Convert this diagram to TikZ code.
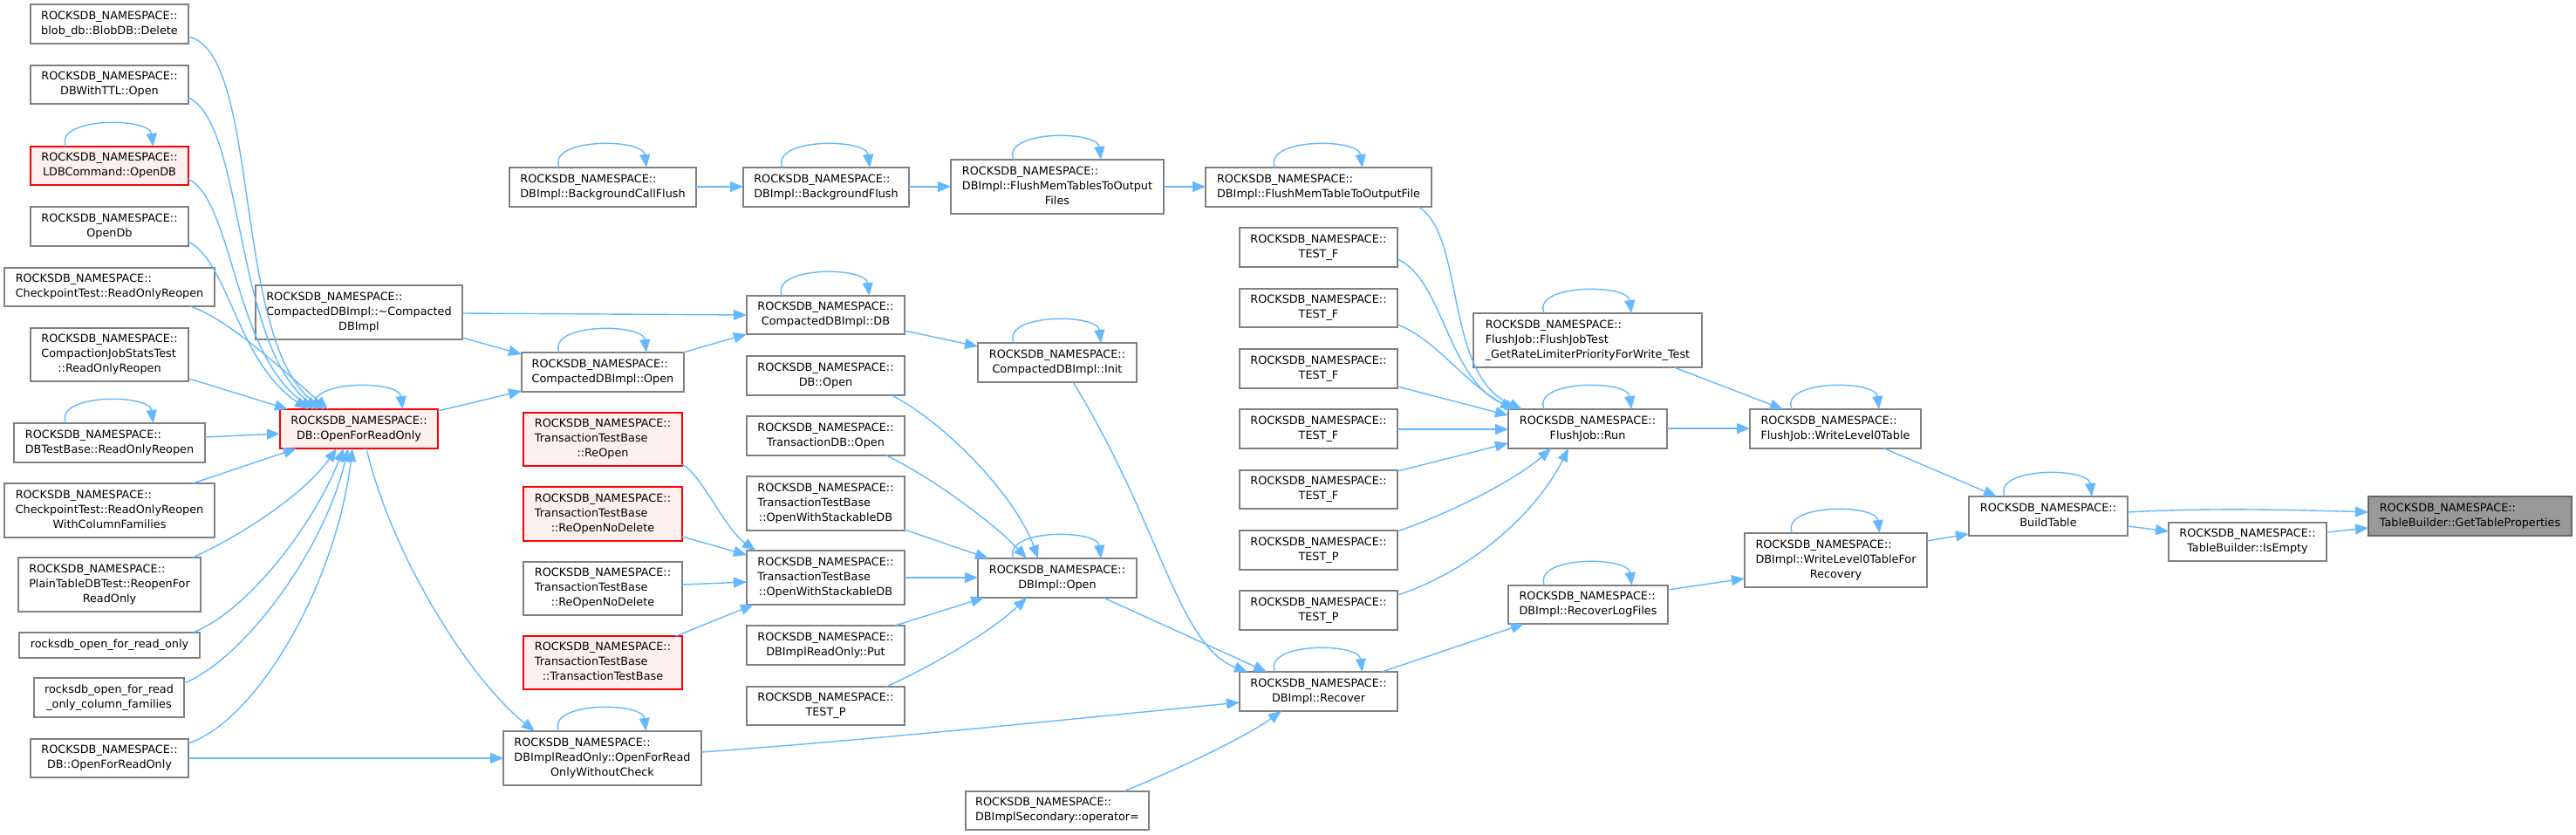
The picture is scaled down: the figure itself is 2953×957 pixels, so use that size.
\documentclass[tikz,border=0pt]{standalone}
\usepackage{fontspec}
\setmainfont{DejaVu Sans}
\usetikzlibrary{arrows.meta}
\definecolor{edgeblue}{HTML}{63B8FF}
\definecolor{boxgray}{HTML}{808080}
\definecolor{redfill}{HTML}{FFF0F0}
\definecolor{focusfill}{HTML}{999999}
\definecolor{focusline}{HTML}{666666}
\newcommand{\tl}[2]{\begin{tabular}{@{}l@{}}#1\\\multicolumn{1}{@{}c@{}}{#2}\end{tabular}}
\newcommand{\NS}{ROCKSDB\_NAMESPACE::}
\newcommand\nodebox[7]{%
  \expandafter\xdef\csname nbx@#1\endcsname{#3}%
  \expandafter\xdef\csname nby@#1\endcsname{#4}%
  \node[#2, minimum width={(#5-#3)*1pt}, minimum height={(#6-#4)*1pt}] (#1) at ({(#3+#5)/2},{(#4+#6)/2}) {#7};}
\newcommand\anc[3]{([xshift={(#2-\csname nbx@#1\endcsname)*1pt}, yshift={(\csname nby@#1\endcsname-#3)*1pt}]#1.north west)}
\newcommand\selfloop[1]{\draw[edge] ([xshift=-50pt]#1.north) .. controls +(-14,-34) and +(-4,-34) .. ([xshift=50pt]#1.north);}
\tikzset{
  box/.style={draw=boxgray, fill=white, line width=1.6pt, inner sep=0pt, outer sep=0pt, rectangle,
    font=\fontsize{12.8}{17}\selectfont, text=black},
  redbox/.style={box, draw=red, fill=redfill},
  focus/.style={box, draw=focusline, fill=focusfill},
  edge/.style={draw=edgeblue, line width=1.4pt, -{Triangle[length=15pt,width=12pt]}}
}
\begin{document}
\begin{tikzpicture}[x=1pt,y=-1pt]
\useasboundingbox (0,0) rectangle (2953,957);
% column 0
\nodebox{n1}{box}{35}{5}{216}{50}{\tl{\NS}{blob\_db::BlobDB::Delete}}
\nodebox{n2}{box}{35}{75}{216}{119}{\tl{\NS}{DBWithTTL::Open}}
\nodebox{n3}{redbox}{35}{168}{216}{212}{\tl{\NS}{LDBCommand::OpenDB}}
\nodebox{n4}{box}{35}{237}{216}{282}{\tl{\NS}{OpenDb}}
\nodebox{n5}{box}{5}{307}{246}{351}{\tl{\NS}{CheckpointTest::ReadOnlyReopen}}
\nodebox{n6}{box}{35}{376}{216}{437}{\tl{\NS\\CompactionJobStatsTest}{::ReadOnlyReopen}}
\nodebox{n7}{box}{16}{485}{235}{530}{\tl{\NS}{DBTestBase::ReadOnlyReopen}}
\nodebox{n8}{box}{5}{554}{246}{616}{\tl{\NS\\CheckpointTest::ReadOnlyReopen}{WithColumnFamilies}}
\nodebox{n9}{box}{21}{639}{230}{701}{\tl{\NS\\PlainTableDBTest::ReopenFor}{ReadOnly}}
\nodebox{n10}{box}{22}{725}{229}{754}{rocksdb\_open\_for\_read\_only}
\nodebox{n11}{box}{39}{777}{211}{822}{\tl{rocksdb\_open\_for\_read}{\_only\_column\_families}}
\nodebox{n12}{box}{35}{847}{216}{891}{\tl{\NS}{DB::OpenForReadOnly}}
% column 1
\nodebox{c1}{box}{293}{327}{530}{389}{\tl{\NS\\CompactedDBImpl::\textasciitilde Compacted}{DBImpl}}
\nodebox{ofro}{redbox}{321}{469}{502}{514}{\tl{\NS}{DB::OpenForReadOnly}}
% column 2
\nodebox{bcf}{box}{584}{192}{798}{237}{\tl{\NS}{DBImpl::BackgroundCallFlush}}
\nodebox{cdo}{box}{598}{404}{784}{449}{\tl{\NS}{CompactedDBImpl::Open}}
\nodebox{reopen}{redbox}{600}{473}{782}{534}{\tl{\NS\\TransactionTestBase}{::ReOpen}}
\nodebox{reopennd}{redbox}{600}{558}{782}{620}{\tl{\NS\\TransactionTestBase}{::ReOpenNoDelete}}
\nodebox{reopenndb}{box}{600}{644}{782}{705}{\tl{\NS\\TransactionTestBase}{::ReOpenNoDelete}}
\nodebox{ttb}{redbox}{600}{729}{782}{790}{\tl{\NS\\TransactionTestBase}{::TransactionTestBase}}
\nodebox{ofrowc}{box}{577}{838}{804}{900}{\tl{\NS\\DBImplReadOnly::OpenForRead}{OnlyWithoutCheck}}
% column 3
\nodebox{bf}{box}{852}{192}{1042}{237}{\tl{\NS}{DBImpl::BackgroundFlush}}
\nodebox{cddb}{box}{856}{339}{1037}{383}{\tl{\NS}{CompactedDBImpl::DB}}
\nodebox{dbopen}{box}{856}{408}{1037}{453}{\tl{\NS}{DB::Open}}
\nodebox{txdbopen}{box}{856}{477}{1037}{522}{\tl{\NS}{TransactionDB::Open}}
\nodebox{owsdba}{box}{856}{546}{1037}{608}{\tl{\NS\\TransactionTestBase}{::OpenWithStackableDB}}
\nodebox{owsdb}{box}{856}{631}{1037}{693}{\tl{\NS\\TransactionTestBase}{::OpenWithStackableDB}}
\nodebox{put}{box}{856}{717}{1037}{762}{\tl{\NS}{DBImplReadOnly::Put}}
\nodebox{testp0}{box}{856}{787}{1037}{831}{\tl{\NS}{TEST\_P}}
% column 4
\nodebox{fmts}{box}{1090}{183}{1334}{245}{\tl{\NS\\DBImpl::FlushMemTablesToOutput}{Files}}
\nodebox{init}{box}{1121}{393}{1303}{438}{\tl{\NS}{CompactedDBImpl::Init}}
\nodebox{dbimplopen}{box}{1121}{640}{1303}{685}{\tl{\NS}{DBImpl::Open}}
\nodebox{sec}{box}{1107}{907}{1317}{951}{\tl{\NS}{DBImplSecondary::operator=}}
% column 5
\nodebox{fmtf}{box}{1382}{192}{1641}{237}{\tl{\NS}{DBImpl::FlushMemTableToOutputFile}}
\nodebox{tfa}{box}{1421}{261}{1602}{306}{\tl{\NS}{TEST\_F}}
\nodebox{tfb}{box}{1421}{331}{1602}{375}{\tl{\NS}{TEST\_F}}
\nodebox{tfc}{box}{1421}{400}{1602}{445}{\tl{\NS}{TEST\_F}}
\nodebox{tfd}{box}{1421}{469}{1602}{514}{\tl{\NS}{TEST\_F}}
\nodebox{tfe}{box}{1421}{539}{1602}{583}{\tl{\NS}{TEST\_F}}
\nodebox{tpa}{box}{1421}{608}{1602}{653}{\tl{\NS}{TEST\_P}}
\nodebox{tpb}{box}{1421}{677}{1602}{722}{\tl{\NS}{TEST\_P}}
\nodebox{recover}{box}{1421}{770}{1602}{815}{\tl{\NS}{DBImpl::Recover}}
% column 6
\nodebox{fjt}{box}{1689}{359}{1951}{421}{\tl{\NS\\FlushJob::FlushJobTest}{\_GetRateLimiterPriorityForWrite\_Test}}
\nodebox{run}{box}{1729}{469}{1911}{514}{\tl{\NS}{FlushJob::Run}}
\nodebox{rlf}{box}{1729}{671}{1912}{715}{\tl{\NS}{DBImpl::RecoverLogFiles}}
% column 7
\nodebox{wl0}{box}{2006}{469}{2202}{514}{\tl{\NS}{FlushJob::WriteLevel0Table}}
\nodebox{wl0r}{box}{2000}{611}{2209}{673}{\tl{\NS\\DBImpl::WriteLevel0TableFor}{Recovery}}
% columns 8-10
\nodebox{bt}{box}{2257}{569}{2439}{614}{\tl{\NS}{BuildTable}}
\nodebox{isempty}{box}{2486}{599}{2667}{643}{\tl{\NS}{TableBuilder::IsEmpty}}
\nodebox{gtp}{focus}{2715}{569}{2948}{614}{\tl{\NS}{TableBuilder::GetTableProperties}}

% self loops
\foreach \n in {n3,n7,ofro,bcf,bf,fmts,fmtf,cdo,cddb,init,ofrowc,dbimplopen,recover,fjt,run,rlf,wl0,wl0r,bt}{\selfloop{\n}}

% edges into DB::OpenForReadOnly
\draw[edge] \anc{n1}{216}{42} .. controls (300,60) and (265,390) .. \anc{ofro}{371}{469};
\draw[edge] \anc{n2}{216}{112} .. controls (280,140) and (268,395) .. \anc{ofro}{365}{469};
\draw[edge] \anc{n3}{216}{205} .. controls (268,232) and (268,405) .. \anc{ofro}{359}{469};
\draw[edge] \anc{n4}{216}{277} .. controls (262,300) and (272,415) .. \anc{ofro}{353}{469};
\draw[edge] \anc{n5}{218}{351} .. controls (260,365) and (320,420) .. \anc{ofro}{376}{469};
\draw[edge] \anc{n6}{217}{434} -- \anc{ofro}{330}{469};
\draw[edge] \anc{n7}{235}{501} -- \anc{ofro}{321}{497};
\draw[edge] \anc{n8}{221}{554} -- \anc{ofro}{340}{514};
\draw[edge] \anc{n9}{221}{639} .. controls (280,612) and (350,565) .. \anc{ofro}{386}{514};
\draw[edge] \anc{n10}{221}{725} .. controls (285,700) and (360,600) .. \anc{ofro}{394}{514};
\draw[edge] \anc{n11}{211}{783} .. controls (280,755) and (372,630) .. \anc{ofro}{399}{514};
\draw[edge] \anc{n12}{216}{852} .. controls (295,825) and (385,670) .. \anc{ofro}{404}{514};
% into OpenForReadOnlyWithoutCheck
\draw[edge] \anc{n12}{216}{869} -- \anc{ofrowc}{577}{869};
\draw[edge] \anc{ofro}{420}{514} .. controls (450,640) and (540,780) .. \anc{ofrowc}{613}{838};
% compacted db
\draw[edge] \anc{ofro}{502}{471} -- \anc{cdo}{598}{448};
\draw[edge] \anc{c1}{530}{387} -- \anc{cdo}{598}{406};
\draw[edge] \anc{c1}{530}{359} -- \anc{cddb}{856}{361};
\draw[edge] \anc{cdo}{783}{404} -- \anc{cddb}{856}{383};
\draw[edge] \anc{cddb}{1037}{379} -- \anc{init}{1121}{397};
% flush chain
\draw[edge] \anc{bcf}{798}{214} -- \anc{bf}{852}{214};
\draw[edge] \anc{bf}{1042}{214} -- \anc{fmts}{1090}{214};
\draw[edge] \anc{fmts}{1334}{214} -- \anc{fmtf}{1382}{214};
% into OpenWithStackableDB
\draw[edge] \anc{reopen}{782}{532} .. controls (805,545) and (830,605) .. \anc{owsdb}{866}{631};
\draw[edge] \anc{reopennd}{782}{615} -- \anc{owsdb}{856}{636};
\draw[edge] \anc{reopenndb}{782}{670} -- \anc{owsdb}{856}{667};
\draw[edge] \anc{ttb}{775}{729} -- \anc{owsdb}{864}{693};
% into DBImpl::Open
\draw[edge] \anc{dbopen}{1022}{453} .. controls (1085,485) and (1165,570) .. \anc{dbimplopen}{1190}{640};
\draw[edge] \anc{txdbopen}{1016}{522} .. controls (1065,545) and (1140,600) .. \anc{dbimplopen}{1177}{640};
\draw[edge] \anc{owsdba}{1037}{607} -- \anc{dbimplopen}{1133}{640};
\draw[edge] \anc{owsdb}{1037}{662} -- \anc{dbimplopen}{1121}{662};
\draw[edge] \anc{put}{1026}{717} -- \anc{dbimplopen}{1128}{685};
\draw[edge] \anc{testp0}{1016}{787} .. controls (1065,765) and (1135,725) .. \anc{dbimplopen}{1177}{685};
% into Recover
\draw[edge] \anc{dbimplopen}{1265}{685} -- \anc{recover}{1452}{770};
\draw[edge] \anc{init}{1230}{438} .. controls (1330,600) and (1350,740) .. \anc{recover}{1430}{770};
\draw[edge] \anc{ofrowc}{804}{862} .. controls (1000,848) and (1250,822) .. \anc{recover}{1421}{805};
\draw[edge] \anc{sec}{1288}{907} .. controls (1330,890) and (1420,850) .. \anc{recover}{1469}{815};
% into FlushJob::Run
\draw[edge] \anc{fmtf}{1626}{237} .. controls (1680,270) and (1655,430) .. \anc{run}{1745}{469};
\draw[edge] \anc{tfa}{1602}{297} .. controls (1655,320) and (1660,440) .. \anc{run}{1740}{469};
\draw[edge] \anc{tfb}{1602}{372} .. controls (1645,388) and (1680,440) .. \anc{run}{1735}{469};
\draw[edge] \anc{tfc}{1602}{443} -- \anc{run}{1729}{476};
\draw[edge] \anc{tfd}{1602}{492} -- \anc{run}{1729}{492};
\draw[edge] \anc{tfe}{1602}{540} -- \anc{run}{1729}{508};
\draw[edge] \anc{tpa}{1602}{609} .. controls (1670,585) and (1740,548) .. \anc{run}{1778}{514};
\draw[edge] \anc{tpb}{1602}{682} .. controls (1685,655) and (1760,590) .. \anc{run}{1798}{514};
% right part
\draw[edge] \anc{recover}{1584}{770} -- \anc{rlf}{1747}{715};
\draw[edge] \anc{rlf}{1912}{676} -- \anc{wl0r}{2000}{663};
\draw[edge] \anc{wl0r}{2209}{620} -- \anc{bt}{2257}{612};
\draw[edge] \anc{run}{1911}{491} -- \anc{wl0}{2006}{491};
\draw[edge] \anc{fjt}{1919}{421} -- \anc{wl0}{2044}{469};
\draw[edge] \anc{wl0}{2160}{514} -- \anc{bt}{2289}{569};
\draw[edge] \anc{bt}{2439}{587} .. controls (2530,582) and (2620,584) .. \anc{gtp}{2715}{587};
\draw[edge] \anc{bt}{2439}{603} -- \anc{isempty}{2486}{609};
\draw[edge] \anc{isempty}{2667}{610} -- \anc{gtp}{2715}{605};
\end{tikzpicture}
\end{document}
